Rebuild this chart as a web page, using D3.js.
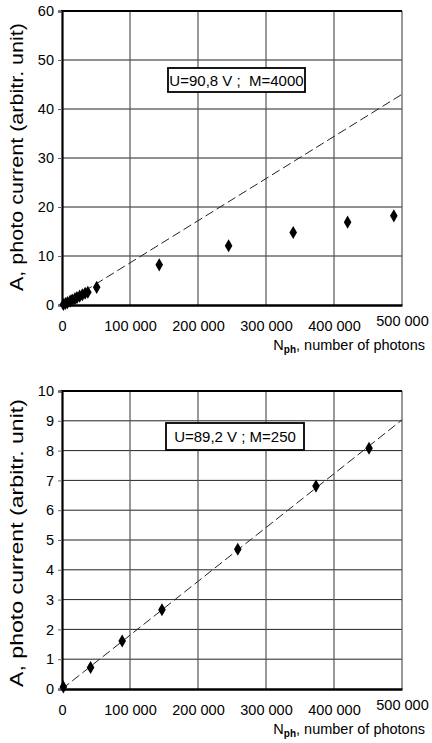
<!DOCTYPE html>
<html>
<head>
<meta charset="utf-8">
<script src="https://cdn.jsdelivr.net/npm/d3@7"></script>
<style>
  body { margin: 0; background: #fff; }
  svg { display: block; font-family: Arial, "Liberation Sans", sans-serif; }
</style>
</head>
<body>
<div id="viz"></div>
<script>
// ---- data ----
var xTicks = [0, 100000, 200000, 300000, 400000, 500000];
var xTickLabels = ["0", "100 000", "200 000", "300 000", "400 000", "500 000"];

// top panel: U=90,8 V ; M=4000
var topNph = [2000, 5000, 8000, 12000, 15000, 19000, 22000, 26000, 30000, 34000, 38000, 51000, 143000, 245000, 340000, 420000, 488000];
var topA   = [0.1, 0.3, 0.5, 0.8, 1.0, 1.3, 1.5, 1.8, 2.1, 2.4, 2.6, 3.6, 8.2, 12.1, 14.8, 16.9, 18.2];
var topYTicks = [0, 10, 20, 30, 40, 50, 60];
var topFit = [[0, 0], [500000, 43]];

// bottom panel: U=89,2 V ; M=250
var botNph = [2000, 42000, 88500, 147000, 258500, 373500, 451500];
var botA   = [0.07, 0.72, 1.61, 2.66, 4.69, 6.81, 8.08];
var botYTicks = [0, 1, 2, 3, 4, 5, 6, 7, 8, 9, 10];
var botFit = [[0, 0], [500000, 9.03]];

var W = 432, H = 743;
var svg = d3.select("#viz").append("svg")
    .attr("width", W)
    .attr("height", H);

function drawPanel(opt) {
  var x = d3.scaleLinear().domain([0, 500000]).range([62, 402]);
  var y = d3.scaleLinear().domain([0, opt.yMax]).range([opt.bottom, opt.top]);
  var g = svg.append("g");

  // grid
  g.selectAll(".hgrid")
    .data(opt.yTicks.slice(1, -1))
    .enter().append("line")
      .attr("x1", x(0)).attr("x2", x(500000))
      .attr("y1", function(d) { return y(d); })
      .attr("y2", function(d) { return y(d); })
      .attr("stroke", "#222").attr("stroke-width", 1);
  g.selectAll(".vgrid")
    .data(xTicks.slice(1))
    .enter().append("line")
      .attr("x1", function(d) { return x(d); })
      .attr("x2", function(d) { return x(d); })
      .attr("y1", y(0)).attr("y2", y(opt.yMax))
      .attr("stroke", "#555").attr("stroke-width", 1.2);

  // frame top
  g.append("line").attr("x1", x(0) - 1).attr("x2", x(500000))
    .attr("y1", y(opt.yMax)).attr("y2", y(opt.yMax))
    .attr("stroke", "#000").attr("stroke-width", 2);

  // y axis
  var yAxis = d3.axisLeft(y).tickValues(opt.yTicks).tickSize(4).tickPadding(4);
  var ya = g.append("g").attr("transform", "translate(" + x(0) + ",0)").call(yAxis);
  ya.select(".domain").attr("stroke", "#000").attr("stroke-width", 2.2);
  ya.selectAll(".tick line").attr("stroke", "#666");
  ya.selectAll("text").attr("font-size", 14.5).attr("fill", "#000")
    .attr("font-family", "Arial, 'Liberation Sans', sans-serif");

  // x axis
  var xAxis = d3.axisBottom(x).tickValues(xTicks).tickSize(0).tickPadding(16)
    .tickFormat(function(d, i) { return xTickLabels[i]; });
  var xa = g.append("g").attr("transform", "translate(0," + y(0) + ")").call(xAxis);
  xa.select(".domain").attr("stroke", "#000").attr("stroke-width", 2.6);
  xa.selectAll("text").attr("font-size", 14.5).attr("fill", "#000")
    .attr("font-family", "Arial, 'Liberation Sans', sans-serif")
    .attr("dy", function(d) { return d === 500000 ? "0.35em" : "0.71em"; });

  // fitted dashed line
  var line = d3.line().x(function(d) { return x(d[0]); }).y(function(d) { return y(d[1]); });
  g.append("path")
    .datum(opt.fit)
    .attr("d", line)
    .attr("fill", "none")
    .attr("stroke", "#222")
    .attr("stroke-width", 1)
    .attr("stroke-dasharray", "9,4");

  // markers
  var pts = opt.xs.map(function(v, i) { return [v, opt.ys[i]]; });
  g.selectAll(".pt")
    .data(pts)
    .enter().append("path")
      .attr("d", d3.symbol().type(d3.symbolDiamond).size(50))
      .attr("transform", function(d) { return "translate(" + x(d[0]) + "," + y(d[1]) + ")"; })
      .attr("fill", "#000");

  // annotation box
  var box = g.append("g").attr("transform", "translate(" + opt.box[0] + "," + opt.box[1] + ")");
  box.append("rect")
    .attr("width", opt.box[2]).attr("height", opt.box[3])
    .attr("fill", "#fff").attr("stroke", "#000").attr("stroke-width", 1.8);
  box.append("text")
    .attr("x", opt.box[2] / 2).attr("y", opt.box[3] / 2 + 5.5)
    .attr("text-anchor", "middle")
    .attr("font-size", 15)
    .style("white-space", "pre")
    .text(opt.label);

  // y title
  g.append("text")
    .attr("transform", "translate(23," + opt.titleMid + ") rotate(-90)")
    .attr("text-anchor", "middle")
    .attr("font-size", 18.5)
    .attr("textLength", opt.titleLen)
    .attr("lengthAdjust", "spacingAndGlyphs")
    .text("A, photo current (arbitr. unit)");

  // x title
  var xt = g.append("text")
    .attr("x", 425).attr("y", opt.bottom + 45)
    .attr("text-anchor", "end")
    .attr("font-size", 14.5);
  xt.append("tspan").text("N");
  xt.append("tspan").attr("font-size", 10).attr("font-weight", "bold").attr("dy", 3).text("ph");
  xt.append("tspan").attr("dy", -3).text(", number of photons");
}

drawPanel({
  top: 11, bottom: 305, yMax: 60, yTicks: topYTicks,
  xs: topNph, ys: topA, fit: topFit,
  box: [168, 68, 137, 24], label: "U=90,8 V ;  M=4000",
  titleMid: 157, titleLen: 268
});

drawPanel({
  top: 391, bottom: 689, yMax: 10, yTicks: botYTicks,
  xs: botNph, ys: botA, fit: botFit,
  box: [166, 423, 138, 27], label: "U=89,2 V ; M=250",
  titleMid: 543, titleLen: 288
});
</script>
</body>
</html>
